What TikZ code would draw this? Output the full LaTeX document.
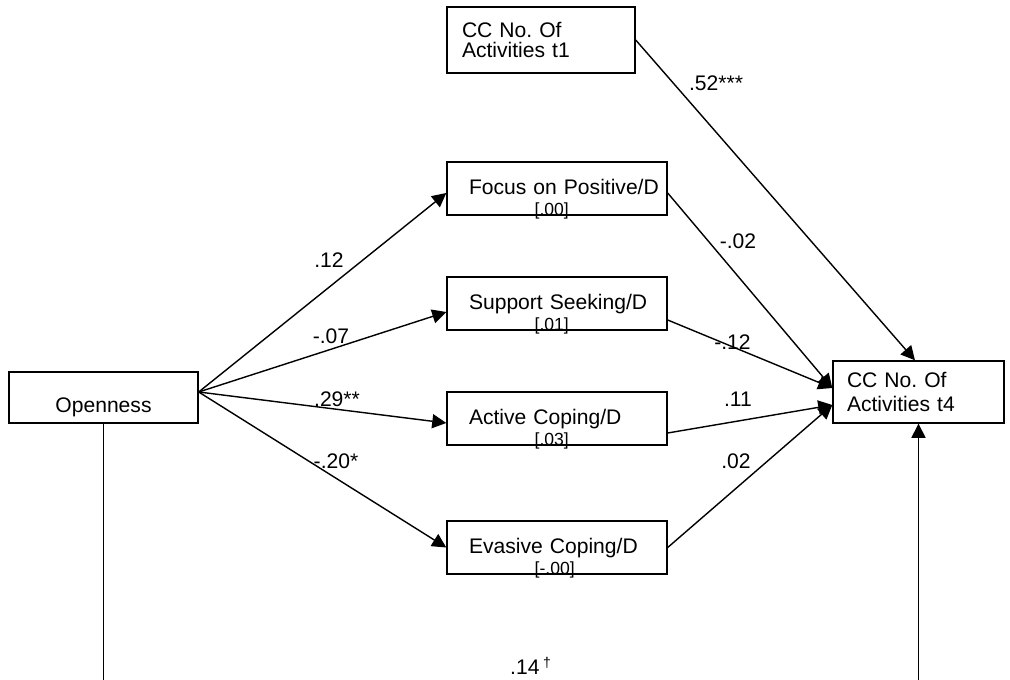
\documentclass[tikz,border=0pt]{standalone}
\usepackage{fontspec}
\setmainfont{Liberation Sans}
\usetikzlibrary{arrows.meta,positioning,calc}

\begin{document}
\begin{tikzpicture}[
  varbox/.style={draw, line width=0.8pt, inner xsep=0.3cm, inner ysep=0pt,
    align=left, font=\fontsize{12}{11.5}\selectfont},
  medbox/.style={draw, line width=0.8pt, minimum height=1.06cm, text width=4.4cm,
    inner xsep=0pt, inner ysep=0pt, text height=0.32cm, text depth=0.08cm,
    align=left, execute at begin node={\hspace*{0.44cm}},
    font=\fontsize{12}{14}\selectfont},
  valtxt/.style={inner sep=0pt, anchor=west, font=\fontsize{10}{12}\selectfont},
  coef/.style={inner sep=0pt, font=\fontsize{12}{14}\selectfont},
  link/.style={-{Triangle[length=8pt,width=8pt]}, line width=0.8pt},
  plain/.style={line width=0.8pt}]

\useasboundingbox (0,0) rectangle (20.2,-13.6);

% outcome and control
\node[varbox, minimum width=3.76cm, minimum height=1.32cm, text width=3.16cm]
  (t1) at (10.82,-0.8) {CC No.\ Of\\Activities t1};
\node[varbox, minimum width=3.42cm, minimum height=1.24cm, inner xsep=0.28cm, text width=2.86cm,
  font=\fontsize{12}{13.5}\selectfont]
  (t4) at (18.37,-7.84) {CC No.\ Of\\Activities t4};

% predictor
\node[draw, line width=0.8pt, minimum width=3.78cm, minimum height=1.02cm, inner sep=0pt,
  text height=0.7cm, text depth=0.12cm, font=\fontsize{12}{14}\selectfont]
  (ov) at (2.07,-7.95) {Openness};

% mediators
\node[medbox] (foc) at (11.14,-3.77) {Focus on Positive/D};
\node[medbox] (sup) at (11.14,-6.07) {Support Seeking/D};
\node[medbox] (act) at (11.14,-8.37) {Active Coping/D};
\node[medbox] (eva) at (11.14,-10.95) {Evasive Coping/D};

\node[valtxt] (focv) at ([xshift=1.76cm,yshift=0.1cm]foc.south west) {[.00]};
\node[valtxt] (supv) at ([xshift=1.76cm,yshift=0.1cm]sup.south west) {[.01]};
\node[valtxt] (actv) at ([xshift=1.76cm,yshift=0.1cm]act.south west) {[.03]};
\node[valtxt] (evav) at ([xshift=1.76cm,yshift=0.1cm]eva.south west) {[-.00]};

\coordinate (ovp) at ([yshift=0.11cm]ov.east);
\coordinate (base) at (0,-13.6);
\coordinate (bl) at (ov.south |- base);
\coordinate (br) at (t4.south |- base);

% a paths
\draw[link] (ovp) -- ([yshift=-0.09cm]foc.west);
\draw[link] (ovp) -- ([yshift=-0.17cm]sup.west);
\draw[link] (ovp) -- ([yshift=-0.09cm]act.west);
\draw[link] (ovp) -- (eva.west);

% b paths
\draw[link] ([yshift=-0.09cm]foc.east) -- ([yshift=0.08cm]t4.west);
\draw[link] ([yshift=-0.33cm]sup.east) -- ([yshift=0.08cm]t4.west);
\draw[link] ([yshift=-0.29cm]act.east) -- ([yshift=-0.26cm]t4.west);
\draw[link] (eva.east) -- ([yshift=-0.26cm]t4.west);

\draw[link] (t1.east) -- ([xshift=-0.07cm]t4.north);

% direct path
\draw[plain] (ov.south) -- (bl);
\draw[link] (br) -- (t4.south);

% coefficients
\node[coef] (c1) at (6.58,-5.2) {.12};
\node[coef] (c2) at (6.62,-6.72) {-.07};
\node[coef] (c3) at (6.74,-7.98) {.29**};
\node[coef] (c4) at (6.72,-9.22) {-.20*};
\node[coef] (c5) at (14.32,-1.66) {.52***};
\node[coef] (c6) at (14.76,-4.82) {-.02};
\node[coef] (c7) at (14.65,-6.85) {-.12};
\node[coef] (c8) at (14.76,-7.98) {.11};
\node[coef] (c9) at (14.72,-9.22) {.02};
\node[coef] (c10) at (10.62,-13.32) {.14\,\textsuperscript{†}};

\end{tikzpicture}
\end{document}
